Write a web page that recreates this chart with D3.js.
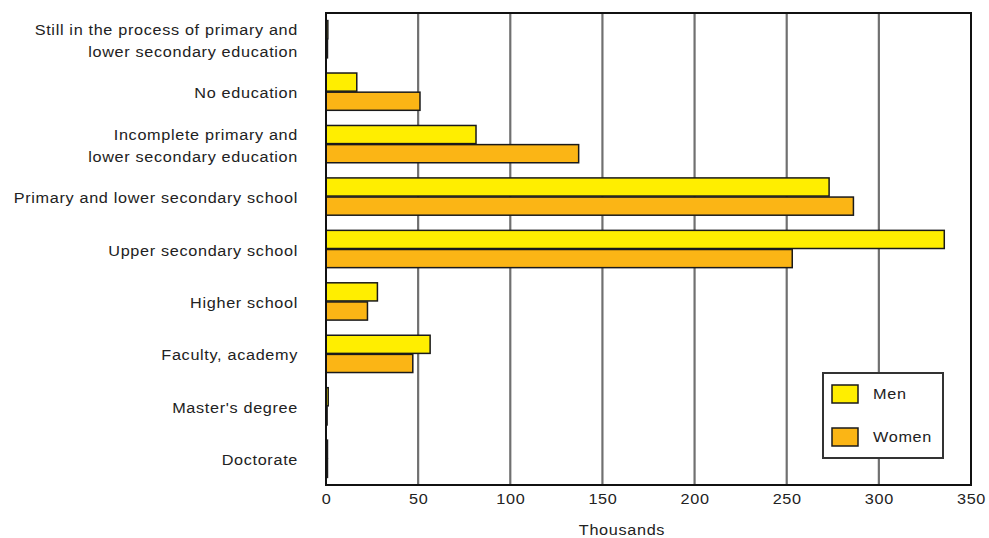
<!DOCTYPE html>
<html>
<head>
<meta charset="utf-8">
<script src="https://cdn.jsdelivr.net/npm/d3@7/dist/d3.min.js"></script>
<style>
  html, body { margin: 0; padding: 0; background: #fff; }
  svg text { font-family: "Liberation Sans", Arial, sans-serif; fill: #222; }
</style>
</head>
<body>
<svg id="chart" width="989" height="538"></svg>
<script>
// Educational attainment, thousands of persons
const categories = [
  ["Still in the process of primary and", "lower secondary education"],
  ["No education"],
  ["Incomplete primary and", "lower secondary education"],
  ["Primary and lower secondary school"],
  ["Upper secondary school"],
  ["Higher school"],
  ["Faculty, academy"],
  ["Master's degree"],
  ["Doctorate"]
];
const men   = [1.0, 16.7, 81.4, 273.0, 335.5, 27.9, 56.5, 1.2, 0.8];
const women = [0.8, 51.0, 137.1, 286.2, 253.0, 22.5, 47.1, 0.6, 0.8];
const seriesNames = ["Men", "Women"];
const seriesColors = ["#ffee00", "#fbb515"];
const xTicks = [0, 50, 100, 150, 200, 250, 300, 350];
const axisTitle = "Thousands";

// text is set slightly wide
const FS = 14.5, LS = 0.6, WIDE = 1.12;

const svg = d3.select("#chart");
const plot = { left: 326, right: 971, top: 13, bottom: 485 };

const keys = categories.map((c, i) => i);
const x = d3.scaleLinear().domain([0, 350]).range([plot.left, plot.right]);
const y = d3.scaleBand().domain(keys).range([plot.top, plot.bottom])
  .paddingInner(0.27).paddingOuter(0.135);
const ySub = d3.scaleBand().domain([0, 1]).range([0, y.bandwidth()]);

// vertical grid lines
svg.append("g").selectAll("line")
  .data(xTicks.filter(t => t > 0 && t < 350))
  .join("line")
  .attr("x1", d => x(d)).attr("x2", d => x(d))
  .attr("y1", plot.top).attr("y2", plot.bottom)
  .attr("stroke", "#707070").attr("stroke-width", 2.2);

// bars
const rows = keys.map(i => ({ i, vals: [men[i], women[i]] }));
const groups = svg.append("g").selectAll("g")
  .data(rows).join("g")
  .attr("transform", d => `translate(0,${y(d.i)})`);
groups.selectAll("rect")
  .data(d => d.vals.map((v, s) => ({ v, s })))
  .join("rect")
  .attr("x", x(0))
  .attr("y", d => ySub(d.s) + 0.5)
  .attr("width", d => x(d.v) - x(0))
  .attr("height", ySub.bandwidth() - 1)
  .attr("fill", d => seriesColors[d.s])
  .attr("stroke", "#1a1a1a").attr("stroke-width", 1.5);

// frame
svg.append("rect")
  .attr("x", plot.left).attr("y", plot.top)
  .attr("width", plot.right - plot.left).attr("height", plot.bottom - plot.top)
  .attr("fill", "none").attr("stroke", "#111").attr("stroke-width", 2);

// x axis labels
const xAxis = d3.axisBottom(x).tickValues(xTicks).tickSize(0).tickPadding(9);
const gx = svg.append("g").attr("transform", `translate(0,${plot.bottom})`).call(xAxis);
gx.select(".domain").remove();
gx.selectAll("text")
  .attr("font-size", FS).attr("letter-spacing", LS)
  .attr("transform", `scale(${WIDE},1)`)
  .style("font-family", "'Liberation Sans', Arial, sans-serif").attr("fill", "#222");

svg.append("g").attr("transform", `translate(622,535) scale(${WIDE},1)`)
  .append("text")
  .attr("text-anchor", "middle")
  .attr("font-size", FS).attr("letter-spacing", LS)
  .text(axisTitle);

// category labels
const labels = svg.append("g").attr("transform", `translate(298,0) scale(${WIDE},1)`)
  .selectAll("text")
  .data(rows).join("text")
  .attr("text-anchor", "end")
  .attr("font-size", FS).attr("letter-spacing", LS);
labels.each(function(d) {
  const lines = categories[d.i];
  const cy = y(d.i) + y.bandwidth() / 2;
  const lh = 22;
  const t = d3.select(this);
  lines.forEach((ln, k) => {
    t.append("tspan")
      .attr("x", 0)
      .attr("y", cy + (k - (lines.length - 1) / 2) * lh + 1.5)
      .attr("dy", "0.35em")
      .text(ln);
  });
});

// legend
const lg = svg.append("g");
lg.append("rect")
  .attr("x", 823).attr("y", 373).attr("width", 120).attr("height", 85)
  .attr("fill", "#fff").attr("stroke", "#333").attr("stroke-width", 2);
seriesNames.forEach((name, s) => {
  const cy = 394 + s * 43;
  lg.append("rect")
    .attr("x", 832).attr("y", cy - 9).attr("width", 26).attr("height", 18)
    .attr("fill", seriesColors[s]).attr("stroke", "#1a1a1a").attr("stroke-width", 1.5);
  lg.append("g").attr("transform", `translate(873,${cy}) scale(${WIDE},1)`)
    .append("text")
    .attr("dy", "0.35em")
    .attr("font-size", FS).attr("letter-spacing", LS)
    .text(name);
});
</script>
</body>
</html>
